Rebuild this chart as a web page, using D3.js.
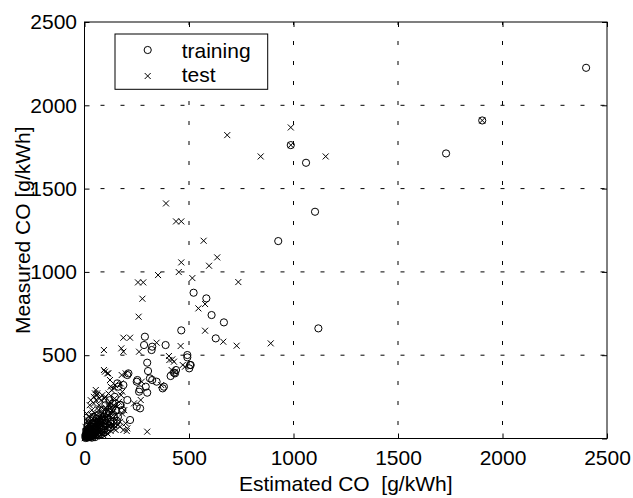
<!DOCTYPE html>
<html>
<head>
<meta charset="utf-8">
<script src="https://cdn.jsdelivr.net/npm/d3@7"></script>
<style>
  body { margin: 0; background: #fff; }
  svg text { font-family: "Liberation Sans", Arial, sans-serif; fill: #000; white-space: pre; }
</style>
</head>
<body>
<svg id="chart" width="633" height="498"></svg>
<script>
// estimated / measured CO [g/kWh]
var training = [
  [2400, 2225], [1903, 1909], [1730, 1711], [987, 1761], [1060, 1655],
  [1103, 1361], [927, 1185], [1119, 661],
  [522, 875], [583, 841], [608, 741], [667, 697], [463, 649], [628, 601], [289, 611],
  [285, 561], [324, 551], [388, 561], [492, 501], [300, 455], [304, 405], [508, 441],
  [428, 395], [412, 375], [492, 487], [505, 441], [501, 421], [438, 411], [321, 531],
  [157, 331], [205, 381], [253, 351], [293, 311], [324, 351], [380, 311], [261, 281],
  [173, 201], [205, 231], [181, 171], [218, 111], [313, 361], [345, 341], [265, 295],
  [300, 275], [374, 301], [433, 391], [210, 391], [250, 341], [162, 311], [186, 321],
  [170, 201], [250, 191], [266, 181],
  [5, 3], [8, 10], [12, 5], [15, 20], [20, 12], [25, 30], [30, 18], [35, 40], [40, 25],
  [45, 55], [50, 35], [55, 70], [60, 45], [65, 80], [70, 60], [75, 95], [80, 50],
  [85, 110], [90, 75], [95, 130], [100, 90], [105, 150], [110, 120], [118, 160],
  [125, 100], [130, 180], [10, 40], [18, 60], [28, 75], [38, 90], [48, 100], [58, 120],
  [22, 8], [33, 14], [44, 20], [62, 30], [78, 40], [92, 55], [140, 140], [150, 170],
  [160, 130], [135, 210], [145, 250], [100, 200], [120, 230], [88, 170],
  [20, 50], [30, 60], [40, 70], [50, 85], [60, 95], [70, 110], [15, 35], [25, 45],
  [35, 5], [50, 8], [65, 20], [80, 25], [95, 35], [110, 50], [125, 65], [140, 90],
  [155, 105], [6, 25], [14, 70], [24, 110], [42, 130], [66, 140],
  [4, 14], [9, 48], [17, 28], [27, 55], [37, 18], [53, 60], [72, 78], [98, 110]
];

var test = [
  [1903, 1909], [987, 1761], [987, 1867], [683, 1821], [843, 1693], [1154, 1693],
  [390, 1411], [438, 1303], [463, 1303], [570, 1187], [463, 1057], [635, 1087],
  [596, 1037], [451, 999], [352, 981], [516, 963], [736, 939], [256, 937], [281, 937],
  [277, 839], [259, 731], [577, 807], [545, 781], [577, 647], [664, 581], [728, 557],
  [891, 571], [186, 605], [218, 605], [93, 531], [186, 521], [176, 541], [261, 521],
  [460, 555], [420, 475], [404, 495], [93, 411], [109, 391], [197, 391], [367, 321],
  [54, 291], [61, 271], [125, 311], [141, 301], [173, 331], [181, 281], [269, 231],
  [237, 211], [205, 61], [197, 91], [300, 41], [141, 81], [149, 51], [98, 401],
  [114, 391], [178, 381], [122, 351], [146, 321], [50, 271], [274, 341], [417, 411],
  [433, 401], [481, 431], [202, 45], [170, 71], [186, 51], [345, 575], [470, 441],
  [428, 461], [406, 471],
  [3, 5], [6, 15], [10, 25], [14, 8], [18, 35], [22, 45], [26, 18], [30, 55], [34, 28],
  [38, 65], [42, 38], [46, 80], [50, 20], [54, 95], [58, 48], [62, 110], [66, 60],
  [70, 125], [74, 35], [78, 140], [82, 75], [86, 155], [90, 40], [94, 170], [98, 88],
  [102, 185], [108, 60], [112, 200], [116, 105], [120, 220], [128, 130], [132, 80],
  [138, 160], [144, 240], [150, 110], [156, 190], [40, 120], [50, 150], [60, 180],
  [70, 200], [80, 230], [30, 100], [20, 80], [12, 60], [8, 30], [16, 4], [28, 6],
  [40, 10], [56, 12], [72, 15], [90, 20], [110, 30], [125, 45], [140, 60], [160, 80],
  [170, 100], [180, 150], [190, 170], [165, 220], [175, 260], [85, 260], [95, 240],
  [115, 270], [130, 290],
  [10, 150], [20, 130], [25, 200], [35, 170], [45, 210], [15, 110], [5, 70], [5, 45],
  [35, 140], [55, 230], [65, 150], [75, 180], [100, 120], [110, 160], [130, 210],
  [60, 260], [45, 250], [25, 90], [15, 100], [100, 250], [120, 180], [140, 200],
  [150, 140], [80, 100], [90, 130], [105, 80], [60, 100], [30, 230], [70, 240],
  [2, 2], [4, 10], [7, 20], [9, 5], [11, 15], [13, 28], [17, 12], [19, 22], [21, 38],
  [23, 3], [27, 33], [29, 48], [31, 10], [33, 42], [36, 22], [39, 52], [41, 15],
  [43, 62], [47, 30], [49, 72], [52, 45], [57, 85], [59, 25], [63, 70], [67, 95],
  [69, 40], [73, 105], [77, 55], [81, 115], [84, 30], [87, 85], [93, 100], [97, 65],
  [103, 130], [107, 95], [113, 140], [117, 75], [123, 155], [127, 115], [135, 175]
];

var tickValues = [0, 500, 1000, 1500, 2000, 2500];
var gridValues = [500, 1000, 1500, 2000];
var legendLabels = ["training", "test"];

var svg = d3.select("#chart"),
  margin = { top: 22, right: 26, bottom: 59.5, left: 84.5 },
  width = +svg.attr("width") - margin.left - margin.right,
  height = +svg.attr("height") - margin.top - margin.bottom;

var x = d3.scaleLinear().domain([0, 2500]).range([0, width]);
var y = d3.scaleLinear().domain([0, 2500]).range([height, 0]);

var g = svg.append("g")
  .attr("transform", "translate(" + margin.left + "," + margin.top + ")");

// grid, drawn bottom-up / left-right like the original
g.selectAll(".vgrid")
  .data(gridValues)
  .enter()
  .append("line")
  .attr("class", "vgrid")
  .attr("x1", function(d) { return x(d); })
  .attr("x2", function(d) { return x(d); })
  .attr("y1", height)
  .attr("y2", 0)
  .attr("stroke", "#000")
  .attr("stroke-width", 1)
  .attr("stroke-dasharray", "4,16")
  .attr("stroke-dashoffset", 6.5);

g.selectAll(".hgrid")
  .data(gridValues)
  .enter()
  .append("line")
  .attr("class", "hgrid")
  .attr("x1", 0)
  .attr("x2", width)
  .attr("y1", function(d) { return y(d); })
  .attr("y2", function(d) { return y(d); })
  .attr("stroke", "#000")
  .attr("stroke-width", 1)
  .attr("stroke-dasharray", "4,16")
  .attr("stroke-dashoffset", 4);

// axes with inward ticks on all four sides
function styleAxis(sel) {
  sel.select(".domain").remove();
  sel.selectAll("line").attr("stroke", "#000");
  sel.selectAll("text").attr("font-size", 21).attr("fill", "#000");
}

var fmt = d3.format("d");

g.append("g")
  .attr("transform", "translate(0," + height + ")")
  .call(d3.axisBottom(x).tickValues(tickValues).tickFormat(fmt)
    .tickSizeInner(-5).tickSizeOuter(0).tickPadding(12))
  .call(styleAxis);

g.append("g")
  .call(d3.axisLeft(y).tickValues(tickValues).tickFormat(fmt)
    .tickSizeInner(-5).tickSizeOuter(0).tickPadding(7.5))
  .call(styleAxis);

g.append("g")
  .call(d3.axisTop(x).tickValues(tickValues).tickSizeInner(-5).tickSizeOuter(0).tickFormat(""))
  .call(styleAxis);

g.append("g")
  .attr("transform", "translate(" + width + ",0)")
  .call(d3.axisRight(y).tickValues(tickValues).tickSizeInner(-5).tickSizeOuter(0).tickFormat(""))
  .call(styleAxis);

g.append("rect")
  .attr("x", 0)
  .attr("y", 0)
  .attr("width", width)
  .attr("height", height)
  .attr("fill", "none")
  .attr("stroke", "#000")
  .attr("stroke-width", 1);

// markers
var r = 3.6, s = 3;
function crossPath(cx, cy) {
  return "M" + (cx - s) + "," + (cy - s) + "L" + (cx + s) + "," + (cy + s) +
    "M" + (cx - s) + "," + (cy + s) + "L" + (cx + s) + "," + (cy - s);
}

g.selectAll(".training")
  .data(training)
  .enter()
  .append("circle")
  .attr("class", "training")
  .attr("cx", function(d) { return x(d[0]); })
  .attr("cy", function(d) { return y(d[1]); })
  .attr("r", r)
  .attr("fill", "none")
  .attr("stroke", "#000")
  .attr("stroke-width", 1);

g.selectAll(".test")
  .data(test)
  .enter()
  .append("path")
  .attr("class", "test")
  .attr("d", function(d) { return crossPath(x(d[0]), y(d[1])); })
  .attr("fill", "none")
  .attr("stroke", "#000")
  .attr("stroke-width", 1);

// axis labels
svg.append("text")
  .attr("x", margin.left + width / 2)
  .attr("y", 491)
  .attr("text-anchor", "middle")
  .attr("font-size", 21)
  .text("Estimated CO  [g/kWh]");

svg.append("text")
  .attr("transform", "translate(30," + (margin.top + height / 2) + ") rotate(-90)")
  .attr("text-anchor", "middle")
  .attr("font-size", 21)
  .text("Measured CO [g/kWh]");

// legend
var legend = svg.append("g").attr("transform", "translate(115,34)");
legend.append("rect")
  .attr("width", 152.7)
  .attr("height", 55.3)
  .attr("fill", "#fff")
  .attr("stroke", "#000")
  .attr("stroke-width", 1);

legend.append("circle")
  .attr("cx", 32.7)
  .attr("cy", 16)
  .attr("r", r)
  .attr("fill", "none")
  .attr("stroke", "#000");

legend.append("path")
  .attr("d", crossPath(32.7, 42))
  .attr("fill", "none")
  .attr("stroke", "#000");

legend.selectAll(".legendLabel")
  .data(legendLabels)
  .enter()
  .append("text")
  .attr("class", "legendLabel")
  .attr("x", 66.7)
  .attr("y", function(d, i) { return 24 + i * 24; })
  .attr("font-size", 21)
  .text(function(d) { return d; });
</script>
</body>
</html>
